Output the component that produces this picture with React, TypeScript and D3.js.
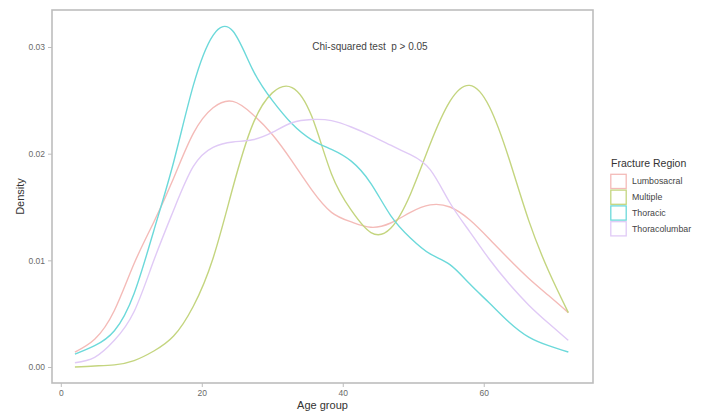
import React, { useEffect, useRef } from "react";
import * as d3 from "d3";

// density evaluation grid (age) and the four estimated densities
const ages = [
  2, 4.8, 7.6, 10.4, 13.2, 16, 18.8, 21.6, 24.4, 27.2, 30, 32.8, 35.6, 38.4,
  41.2, 44, 46.8, 49.6, 52.4, 55.2, 58, 60.8, 63.6, 66.4, 69.2, 72,
];

const lumbosacral = [
  0.0014, 0.0026, 0.0053, 0.0097, 0.0136, 0.0177, 0.0219, 0.0243, 0.0249,
  0.0237, 0.0218, 0.0193, 0.0166, 0.0145, 0.0136, 0.0131, 0.0135, 0.0145,
  0.0152, 0.015, 0.0138, 0.012, 0.0101, 0.0083, 0.0067, 0.0051,
];
const multiple = [
  0.0, 0.0001, 0.0002, 0.0006, 0.0015, 0.0029, 0.0057, 0.0102, 0.0168,
  0.0227, 0.0257, 0.0262, 0.0235, 0.0181, 0.0147, 0.0126, 0.013, 0.0162,
  0.0209, 0.0249, 0.0264, 0.0244, 0.0195, 0.0137, 0.009, 0.0051,
];
const thoracic = [
  0.0012, 0.002, 0.0034, 0.0069, 0.0128, 0.0192, 0.0264, 0.0311, 0.0315,
  0.0279, 0.025, 0.0228, 0.0213, 0.0204, 0.0193, 0.0172, 0.0142, 0.0121,
  0.0106, 0.0096, 0.0078, 0.006, 0.0042, 0.0028, 0.002, 0.0014,
];
const thoracolumbar = [
  0.0004, 0.0009, 0.0025, 0.0052, 0.01, 0.0147, 0.0188, 0.0206, 0.0211,
  0.0213, 0.022, 0.0229, 0.0232, 0.0231, 0.0225, 0.0217, 0.0208, 0.0199,
  0.0185, 0.0154, 0.0127, 0.0101, 0.0078, 0.0058, 0.0041, 0.0025,
];

const regions = ["Lumbosacral", "Multiple", "Thoracic", "Thoracolumbar"];
const colors = ["#f4bbb8", "#c4d57f", "#6cd9da", "#e0caf6"];
const xTicks = [0, 20, 40, 60];
const yTicks = [0, 0.01, 0.02, 0.03];

const FONT = "'Liberation Sans', Arial, Helvetica, sans-serif";

const App = () => {
  const ref = useRef<SVGSVGElement>(null);

  useEffect(() => {
    const width = 705;
    const height = 416;
    const panel = { left: 52, right: 593, top: 10, bottom: 383 };

    const svg = d3.select(ref.current);
    svg.selectAll("*").remove();

    const x = d3
      .scaleLinear()
      .domain([-1.25, 75.5])
      .range([panel.left, panel.right]);
    const y = d3
      .scaleLinear()
      .domain([-0.0015, 0.03347])
      .range([panel.bottom, panel.top]);

    svg
      .append("rect")
      .attr("width", width)
      .attr("height", height)
      .attr("fill", "white");

    const series = [lumbosacral, multiple, thoracic, thoracolumbar];
    const line = d3
      .line<number>()
      .x((d, i) => x(ages[i]))
      .y((d) => y(d))
      .curve(d3.curveNatural);

    series.forEach((s, i) => {
      svg
        .append("path")
        .datum(s)
        .attr("fill", "none")
        .attr("stroke", colors[i])
        .attr("stroke-width", 1.4)
        .attr("d", line);
    });

    // panel border
    svg
      .append("rect")
      .attr("x", panel.left)
      .attr("y", panel.top)
      .attr("width", panel.right - panel.left)
      .attr("height", panel.bottom - panel.top)
      .attr("fill", "none")
      .attr("stroke", "#bdbdbd")
      .attr("stroke-width", 1.6);

    // axes
    const yAxis = svg
      .append("g")
      .attr("transform", `translate(${panel.left},0)`)
      .call(
        d3
          .axisLeft(y)
          .tickValues(yTicks)
          .tickSize(4)
          .tickPadding(3)
          .tickFormat(d3.format(".2f"))
      );
    const xAxis = svg
      .append("g")
      .attr("transform", `translate(0,${panel.bottom})`)
      .call(
        d3
          .axisBottom(x)
          .tickValues(xTicks)
          .tickSize(4)
          .tickPadding(3)
          .tickFormat(d3.format("d"))
      );
    [xAxis, yAxis].forEach((a) => {
      a.select(".domain").remove();
      a.selectAll(".tick line").attr("stroke", "#bdbdbd");
      a.selectAll(".tick text")
        .attr("fill", "#6a6a6a")
        .style("font-family", FONT)
        .style("font-size", "8.5px");
    });

    svg
      .append("text")
      .attr("x", (panel.left + panel.right) / 2)
      .attr("y", 409)
      .attr("text-anchor", "middle")
      .attr("fill", "#333")
      .style("font-family", FONT)
      .style("font-size", "11px")
      .text("Age group");

    svg
      .append("text")
      .attr("transform", `translate(24,${(panel.top + panel.bottom) / 2}) rotate(-90)`)
      .attr("text-anchor", "middle")
      .attr("fill", "#333")
      .style("font-family", FONT)
      .style("font-size", "11px")
      .text("Density");

    svg
      .append("text")
      .attr("x", 370)
      .attr("y", 49.5)
      .attr("text-anchor", "middle")
      .attr("fill", "#444")
      .style("font-family", FONT)
      .style("font-size", "10px")
      .style("white-space", "pre")
      .text("Chi-squared test  p > 0.05");

    // legend
    const legend = svg.append("g").attr("transform", "translate(610,0)");
    legend
      .append("text")
      .attr("x", 1)
      .attr("y", 167)
      .attr("fill", "#333")
      .style("font-family", FONT)
      .style("font-size", "10.5px")
      .text("Fracture Region");

    const keyH = 15.8;
    regions.forEach((r, i) => {
      const ky = 173.5 + i * keyH;
      legend
        .append("rect")
        .attr("x", 0.8)
        .attr("y", ky + 0.8)
        .attr("width", 15.4)
        .attr("height", keyH - 1.6)
        .attr("fill", "white")
        .attr("stroke", colors[i])
        .attr("stroke-width", 1.3);
      legend
        .append("text")
        .attr("x", 22)
        .attr("y", ky + keyH / 2 + 3)
        .attr("fill", "#444")
        .style("font-family", FONT)
        .style("font-size", "8.8px")
        .text(r);
    });
  }, []);

  return (
    <svg
      ref={ref}
      width={705}
      height={416}
      style={{ position: "absolute", left: 0, top: 0 }}
    ></svg>
  );
};

export default App;
